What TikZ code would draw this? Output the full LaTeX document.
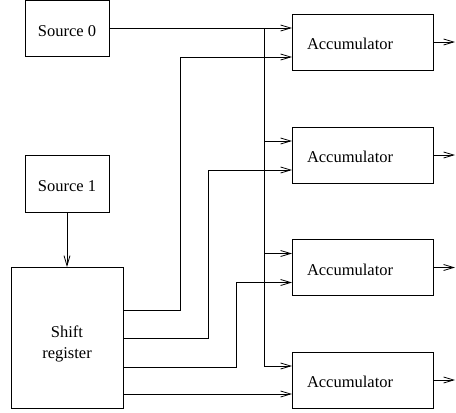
\documentclass[tikz,border=0pt]{standalone}
\usepackage{fontspec}
\setmainfont{Liberation Serif}
\usetikzlibrary{arrows.meta,calc}
\begin{document}
\begin{tikzpicture}[x=1pt,y=-1pt,
  every node/.style={font=\fontsize{16.5}{21}\selectfont, outer sep=0pt},
  block/.style={draw, line width=0.8pt, inner sep=0pt, align=center,
                text height=16pt, text depth=0pt},
  accbox/.style={draw, line width=0.8pt, minimum height=56pt, inner xsep=15pt,
                 inner ysep=0pt, text width=111pt, align=left,
                 text height=15pt, text depth=0pt},
  wire/.style={line width=0.8pt},
  arr/.style={wire, -{Straight Barb[length=10pt,width=6pt,line width=0.8pt]}}]
\useasboundingbox (0,0) rectangle (456,413);

% sources and shift register
\node[block, minimum width=84pt, minimum height=56pt] (s0) at (67,28) {Source 0};
\node[block, minimum width=84pt, minimum height=57pt] (s1) at (67,183.5) {Source 1};
\node[draw, line width=0.8pt, inner sep=0pt, minimum width=112pt, minimum height=141pt] (sr) at (67,337.5) {};
\node[align=center, inner sep=0pt] (srtext) at ($(sr.center)+(0,6)$) {Shift\\register};

% accumulators
\node[accbox] (a1) at (362.5,42) {Accumulator};
\node[accbox] (a2) at (362.5,155) {Accumulator};
\node[accbox] (a3) at (362.5,267.5) {Accumulator};
\node[accbox] (a4) at (362.5,380) {Accumulator};

% input points on each accumulator
\foreach \a in {a1,a2,a3,a4}{
  \coordinate (\a i) at ($(\a.north west)+(0,14)$);
  \coordinate (\a j) at ($(\a.north west)+(0,43)$);
  \coordinate (\a o) at ($(\a.east)+(22,0)$);
  \draw[arr] (\a.east) -- (\a o);
}

% shift register outputs
\coordinate (r1) at ($(sr.north east)+(0,43)$);
\coordinate (r2) at ($(sr.north east)+(0,71)$);
\coordinate (r3) at ($(sr.north east)+(0,100)$);
\coordinate (r4) at ($(sr.north east)+(0,127)$);

% Source 1 feeds the shift register
\draw[arr] (s1.south) -- (sr.north);

% Source 0 bus
\coordinate (bus) at (264,28);
\draw[arr] (s0.east) -- (a1i);
\draw[wire] (bus) -- (bus |- a4i);
\draw[arr] (bus |- a2i) -- (a2i);
\draw[arr] (bus |- a3i) -- (a3i);
\draw[arr] (bus |- a4i) -- (a4i);

% shift register taps
\draw[arr] (r1) -| (180,0 |- a1j) -- (a1j);
\draw[arr] (r2) -| (208,0 |- a2j) -- (a2j);
\draw[arr] (r3) -| (236,0 |- a3j) -- (a3j);
\draw[arr] (r4) -- (r4 -| a4.west);
\end{tikzpicture}
\end{document}
